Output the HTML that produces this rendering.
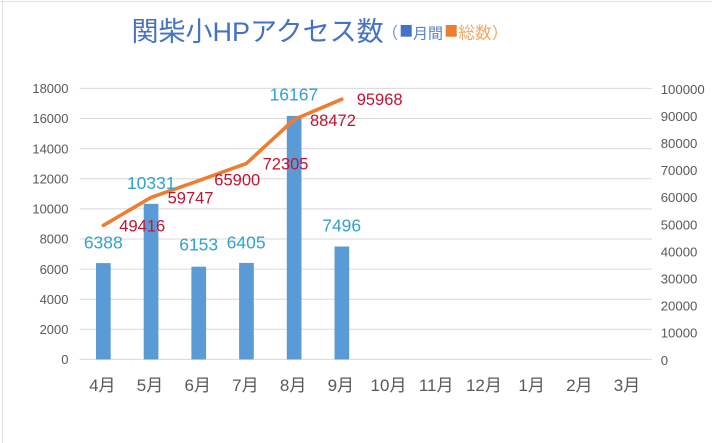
<!DOCTYPE html>
<html>
<head>
<meta charset="utf-8">
<style>
html,body{margin:0;padding:0;background:#fff;}
svg{display:block;}
text{font-family:"Liberation Sans","Noto Sans CJK JP",sans-serif;}
</style>
</head>
<body>
<svg width="712" height="443" viewBox="0 0 712 443" xmlns="http://www.w3.org/2000/svg">
<rect x="0" y="0" width="712" height="443" fill="#fff"/>
<!-- faint sheet lines -->
<line x1="0" y1="1.5" x2="712" y2="1.5" stroke="#e2e2e2" stroke-width="1"/>
<line x1="2.5" y1="0" x2="2.5" y2="443" stroke="#e2e2e2" stroke-width="1"/>

<!-- title -->
<text x="131.5" y="41" font-size="27" fill="#4472C4" font-family="Liberation Sans, Noto Sans CJK JP, sans-serif">関柴小HPアクセス数</text>
<text x="382" y="38.5" font-size="16" fill="#6A8FD0" font-family="Noto Sans CJK JP, sans-serif">（</text>
<rect x="400.7" y="25" width="11" height="11.7" fill="#4472C4"/>
<text x="413" y="38.5" font-size="15" fill="#5A7EC6" font-family="Noto Sans CJK JP, sans-serif">月間</text>
<rect x="445.7" y="25" width="11" height="11.7" fill="#ED7D31"/>
<text x="458.5" y="38.5" font-size="16.5" fill="#EFA766" font-family="Noto Sans CJK JP, sans-serif">総数</text>
<text x="492" y="38.5" font-size="16" fill="#EFA766" font-family="Noto Sans CJK JP, sans-serif">）</text>

<!-- gridlines -->
<g stroke="#D9D9D9" stroke-width="1">
<line x1="79.5" y1="88.4" x2="652" y2="88.4"/>
<line x1="79.5" y1="118.5" x2="652" y2="118.5"/>
<line x1="79.5" y1="148.6" x2="652" y2="148.6"/>
<line x1="79.5" y1="178.7" x2="652" y2="178.7"/>
<line x1="79.5" y1="208.9" x2="652" y2="208.9"/>
<line x1="79.5" y1="239.0" x2="652" y2="239.0"/>
<line x1="79.5" y1="269.1" x2="652" y2="269.1"/>
<line x1="79.5" y1="299.2" x2="652" y2="299.2"/>
<line x1="79.5" y1="329.3" x2="652" y2="329.3"/>
<line x1="79.5" y1="359.4" x2="652" y2="359.4"/>
</g>

<!-- left axis labels -->
<g font-size="13" fill="#595959" text-anchor="end">
<text x="68.5" y="93.1">18000</text>
<text x="68.5" y="123.2">16000</text>
<text x="68.5" y="153.3">14000</text>
<text x="68.5" y="183.4">12000</text>
<text x="68.5" y="213.6">10000</text>
<text x="68.5" y="243.7">8000</text>
<text x="68.5" y="273.8">6000</text>
<text x="68.5" y="303.9">4000</text>
<text x="68.5" y="334.0">2000</text>
<text x="68.5" y="364.1">0</text>
</g>

<!-- right axis labels -->
<g font-size="13.2" fill="#595959" text-anchor="start">
<text x="660.7" y="93.8">100000</text>
<text x="660.7" y="120.9">90000</text>
<text x="660.7" y="148.0">80000</text>
<text x="660.7" y="175.1">70000</text>
<text x="660.7" y="202.2">60000</text>
<text x="660.7" y="229.3">50000</text>
<text x="660.7" y="256.4">40000</text>
<text x="660.7" y="283.5">30000</text>
<text x="660.7" y="310.6">20000</text>
<text x="660.7" y="337.7">10000</text>
<text x="660.7" y="364.8">0</text>
</g>

<!-- bars -->
<g fill="#5B9BD5">
<rect x="96.0" y="263.1" width="14.7" height="96.3"/>
<rect x="143.7" y="203.8" width="14.7" height="155.6"/>
<rect x="191.4" y="266.7" width="14.7" height="92.7"/>
<rect x="239.1" y="262.9" width="14.7" height="96.5"/>
<rect x="286.8" y="115.9" width="14.7" height="243.5"/>
<rect x="334.5" y="246.5" width="14.7" height="112.9"/>
</g>

<!-- line -->
<polyline points="103.35,225.4 151.05,197.4 198.75,180.7 246.45,163.4 294.15,119.5 341.85,99.2" fill="none" stroke="#ED7D31" stroke-width="3.6" stroke-linejoin="round" stroke-linecap="round"/>

<!-- bar labels -->
<g font-size="17.5" fill="#31A2CC" text-anchor="middle">
<text x="103.3" y="248.5">6388</text>
<text x="151.3" y="189.2">10331</text>
<text x="198.7" y="250.5">6153</text>
<text x="246.1" y="248.3">6405</text>
<text x="293.9" y="100.3">16167</text>
<text x="341.7" y="231.3">7496</text>
</g>

<!-- line labels -->
<g font-size="16.5" fill="#C0142F" text-anchor="start">
<text x="119.3" y="231.7">49416</text>
<text x="167.6" y="203.7">59747</text>
<text x="214.3" y="185.4">65900</text>
<text x="262.6" y="169.4">72305</text>
<text x="310" y="126">88472</text>
<text x="356.7" y="105">95968</text>
</g>

<!-- category labels -->
<g font-size="17" fill="#595959" text-anchor="middle">
<text x="102.3" y="391">4月</text>
<text x="150.0" y="391">5月</text>
<text x="197.7" y="391">6月</text>
<text x="245.4" y="391">7月</text>
<text x="293.1" y="391">8月</text>
<text x="340.8" y="391">9月</text>
<text x="388.5" y="391">10月</text>
<text x="436.2" y="391">11月</text>
<text x="483.9" y="391">12月</text>
<text x="531.6" y="391">1月</text>
<text x="579.3" y="391">2月</text>
<text x="627.0" y="391">3月</text>
</g>
</svg>
</body>
</html>
